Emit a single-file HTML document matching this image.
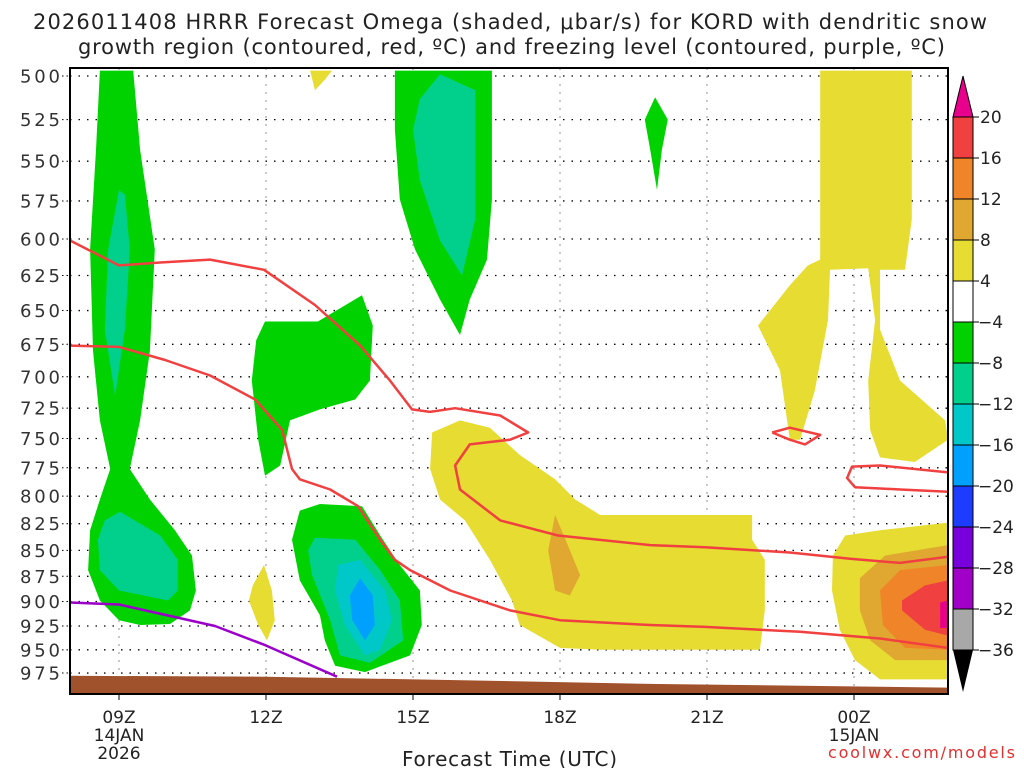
<!DOCTYPE html>
<html><head><meta charset="utf-8">
<style>
html,body{margin:0;padding:0;background:#fff;}
body{width:1024px;height:768px;overflow:hidden;font-family:"DejaVu Sans","Liberation Sans",sans-serif;}
svg text{font-family:"DejaVu Sans","Liberation Sans",sans-serif;}
</style></head>
<body>
<svg id="chart" width="1024" height="768" xmlns="http://www.w3.org/2000/svg">
<text x="33" y="29" font-size="21" fill="#222" textLength="954" lengthAdjust="spacing">2026011408 HRRR Forecast Omega (shaded, μbar/s) for KORD with dendritic snow</text>
<text x="78" y="54" font-size="21" fill="#222" textLength="867" lengthAdjust="spacing">growth region (contoured, red, ºC) and freezing level (contoured, purple, ºC)</text>
<defs><clipPath id="plotclip"><rect x="70" y="68" width="878" height="626"/></clipPath></defs>
<g id="grid"></g>
<g id="fills" clip-path="url(#plotclip)"></g>
<g id="lines" clip-path="url(#plotclip)"></g>
<rect x="70" y="68" width="878" height="626" fill="none" stroke="#000" stroke-width="2"/>
<g id="axes"></g>
<g id="cbar"></g>
<text x="402" y="766" font-size="20" fill="#222" textLength="215" lengthAdjust="spacing">Forecast Time (UTC)</text>
<text x="828" y="758" font-size="16" fill="#e03030" textLength="187" lengthAdjust="spacing">coolwx.com/models</text>
</svg>
<script>
const NS="http://www.w3.org/2000/svg";
// ---- data ----
const pressureTicks=[500,525,550,575,600,625,650,675,700,725,750,775,800,825,850,875,900,925,950,975];
const timeTickHours=[9,12,15,18,21,24];
const timeTickLabels=["09Z","12Z","15Z","18Z","21Z","00Z"];
const timeTickSub=["14JAN","","","","","15JAN"];
const timeTickSub2=["2026","","","","",""];
const cbarLevels=[20,16,12,8,4,-4,-8,-12,-16,-20,-24,-28,-32,-36];
const cbarColors=["#f04040","#f08428","#e0a830","#e6dc32","#ffffff","#00d200","#00d08c","#00c8c8","#00a0ff","#1e3cff","#7800dc","#a000c8","#a8a8a8"];
const greenColumn=[[8.61,497],[8.53,543],[8.41,607],[8.47,680],[8.61,735],[8.82,776],[8.61,803],[8.41,831],[8.37,869],[8.61,899],[9.0,919],[9.43,924],[10.04,923],[10.45,909],[10.57,889],[10.49,855],[10.14,831],[9.63,803],[9.22,776],[9.43,735],[9.63,680],[9.73,607],[9.43,543],[9.29,497]];
const tealColumnUpper=[[9.0,568],[8.78,607],[8.71,664],[8.92,715],[9.12,664],[9.22,607],[9.12,571]];
const tealColumnLower=[[8.71,822],[8.57,840],[8.61,869],[9.0,889],[10.0,899],[10.2,889],[10.2,859],[9.84,836],[9.02,814]];
const greenMid=[[11.98,658],[13.06,658],[13.96,639],[14.18,661],[14.12,703],[13.82,718],[13.1,726],[12.49,735],[12.29,773],[11.98,782],[11.84,751],[11.71,703],[11.8,672]];
const greenUpper=[[14.63,497],[16.61,497],[16.61,574],[16.51,614],[16.16,642],[15.96,668],[15.55,642],[15.04,607],[14.73,574],[14.63,531]];
const tealUpper=[[15.14,513],[15.55,499],[16.27,508],[16.27,587],[16.0,625],[15.55,601],[15.14,562],[15.0,531]];
const greenSmall=[[19.94,512],[20.2,525],[20.08,543],[19.98,568],[19.84,543],[19.73,525]];
const greenLower=[[12.69,813],[13.1,807],[13.96,809],[14.33,836],[14.73,864],[15.14,889],[15.18,924],[14.94,956],[14.02,974],[13.41,967],[13.2,940],[13.1,914],[12.69,879],[12.53,840]];
const tealLower=[[13.0,838],[13.82,840],[14.33,869],[14.73,899],[14.8,940],[14.12,964],[13.51,956],[13.31,919],[12.94,874],[12.86,850]];
const cyanLower=[[13.47,864],[13.92,859],[14.43,889],[14.57,919],[14.33,950],[14.02,956],[13.61,924],[13.41,889]];
const blueLower=[[13.92,877],[14.18,894],[14.22,924],[14.02,940],[13.76,919],[13.71,894]];
const yellowSmall=[[11.96,864],[12.12,889],[12.18,919],[12.02,940],[11.84,924],[11.65,899],[11.73,884]];
const yellowTop=[[12.9,497],[13.35,497],[13.2,502],[13.0,508]];
const yellowBig=[[15.39,745],[15.96,735],[16.57,741],[17.18,764],[17.9,785],[18.31,803],[18.82,817],[21.92,817],[21.92,840],[22.18,859],[22.18,909],[22.08,950],[18.82,950],[18.0,948],[17.18,924],[17.02,899],[16.57,859],[16.06,822],[15.55,803],[15.35,776]];
const goldPatch=[[17.9,817],[18.16,845],[18.41,874],[18.2,894],[17.9,889],[17.76,850]];
const yellowRightTop=[[23.31,497],[25.18,497],[25.18,587],[25.04,621],[24.53,621],[24.53,664],[24.94,703],[25.86,735],[25.92,751],[25.24,770],[24.53,766],[24.33,743],[24.29,703],[24.43,657],[24.29,620],[23.51,621],[23.47,657],[23.2,711],[22.9,751],[22.69,751],[22.49,695],[22.04,661],[22.69,632],[23.06,618],[23.31,614]];
const yellowRightLow=[[23.82,836],[24.53,831],[25.92,824],[25.92,982],[24.53,982],[24.02,961],[23.71,929],[23.55,889],[23.57,855]];
const goldRight=[[24.12,877],[24.63,855],[25.92,845],[25.92,961],[24.84,961],[24.33,940],[24.12,909]];
const orangeRight=[[24.53,889],[24.94,869],[25.92,864],[25.92,950],[25.04,948],[24.59,924]];
const redRight=[[24.98,899],[25.45,884],[25.92,879],[25.92,935],[25.45,929],[24.98,909]];
const magentaRight=[[25.76,901],[25.92,899],[25.92,927],[25.76,927]];
const dgzUpper=[[8,601],[9.0,618],[9.84,616],[10.86,614],[11.96,621],[13.0,646],[13.92,676],[14.53,703],[14.98,726],[15.35,728],[15.86,725],[16.78,731],[17.35,745],[16.98,751],[16.16,755],[15.86,773],[15.96,794],[16.78,822],[17.96,836],[19.84,845],[20.96,847],[22.69,852],[23.92,858],[24.94,862],[25.92,856]];
const dgzLower=[[8,676],[9.0,677],[9.94,687],[10.86,699],[11.78,718],[12.33,743],[12.53,776],[12.69,785],[13.31,794],[13.88,809],[14.33,840],[14.63,859],[14.94,869],[15.76,889],[16.98,909],[18.0,919],[19.84,924],[20.96,926],[22.9,931],[24.53,938],[25.92,948]];
const dgzLoopSmall=[[22.33,745],[22.69,741],[23.31,747],[23.0,755],[22.69,751],[22.33,745]];
const dgzLoopRight=[[25.92,779],[24.53,773],[23.96,774],[23.86,784],[24.02,792],[24.94,794],[25.92,796]];
const freezingLevel=[[8,901],[9.0,903],[10.96,925],[11.98,945],[13.45,979]];
const groundTop=[[8,978],[12,979],[16,983],[20,987],[25.92,991]];
// ---- scales ----
const X0=70, HOUR_PX=49, T0=8;
function xS(h){return X0+(h-T0)*HOUR_PX;}
function yS(p){return 76+894*Math.log(p/500);}
function pts(a){return a.map(d=>xS(d[0]).toFixed(1)+","+yS(d[1]).toFixed(1)).join(" ");}
function mk(tag,parent,attrs){const e=document.createElementNS(NS,tag);for(const k in attrs)e.setAttribute(k,attrs[k]);parent.appendChild(e);return e;}
const grid=document.getElementById("grid"),fills=document.getElementById("fills"),lines=document.getElementById("lines"),axes=document.getElementById("axes"),cbar=document.getElementById("cbar");
// grid
pressureTicks.forEach(p=>{const l=mk("line",grid,{x1:70,x2:948,y1:yS(p),y2:yS(p),stroke:"#000","stroke-width":1.3,"stroke-dasharray":"1.5,7"});


const t=mk("text",axes,{x:20,y:yS(p)+6.5,"font-size":18,fill:"#333",textLength:40,lengthAdjust:"spacing"});t.textContent=p;


const tk=mk("line",axes,{x1:62,x2:70,y1:yS(p),y2:yS(p),stroke:"#000","stroke-dasharray":"1.5,3"});

});
timeTickHours.forEach((h,i)=>{const l=mk("line",grid,{x1:xS(h),x2:xS(h),y1:68,y2:694,stroke:"#aaa","stroke-width":1.3,"stroke-dasharray":"2,6"});


const tk=mk("line",axes,{x1:xS(h),x2:xS(h),y1:694,y2:700,stroke:"#000"});


[timeTickLabels[i],timeTickSub[i],timeTickSub2[i]].forEach((s,j)=>{if(!s)return;const t=mk("text",axes,{x:xS(h),y:723+j*18,"text-anchor":"middle","font-size":17,fill:"#222","font-family":"Liberation Sans, sans-serif"});t.textContent=s;

});});
// fills
const layers=[["green-column",greenColumn,"#00d200"],["teal-column-upper",tealColumnUpper,"#00d08c"],["teal-column-lower",tealColumnLower,"#00d08c"],
["green-mid",greenMid,"#00d200"],["green-upper",greenUpper,"#00d200"],["teal-upper",tealUpper,"#00d08c"],["green-small",greenSmall,"#00d200"],
["green-lower",greenLower,"#00d200"],["teal-lower",tealLower,"#00d08c"],["cyan-lower",cyanLower,"#00c8c8"],["blue-lower",blueLower,"#00a0ff"],
["yellow-small",yellowSmall,"#e6dc32"],["yellow-top",yellowTop,"#e6dc32"],["yellow-big",yellowBig,"#e6dc32"],["gold-patch",goldPatch,"#e0a830"],
["yellow-right-top",yellowRightTop,"#e6dc32"],["yellow-right-low",yellowRightLow,"#e6dc32"],["gold-right",goldRight,"#e0a830"],
["orange-right",orangeRight,"#f08428"],["red-right",redRight,"#f04040"],["magenta-right",magentaRight,"#e8008c"]];
layers.forEach(L=>{const e=mk("polygon",fills,{points:pts(L[1]),fill:L[2]});

});
// ground
const g=mk("polygon",fills,{points:pts(groundTop)+" "+xS(25.92)+",694 70,694",fill:"#a0522d"});


// lines
[["dgz-upper",dgzUpper,"#f04040"],["dgz-lower",dgzLower,"#f04040"],["dgz-loop-small",dgzLoopSmall,"#f04040"],["dgz-loop-right",dgzLoopRight,"#f04040"],["freezing-level",freezingLevel,"#9a00c8"]].forEach(L=>{
const e=mk("polyline",lines,{points:pts(L[1]),fill:"none",stroke:L[2],"stroke-width":2.5,"stroke-linejoin":"round"});

});
// colorbar
const CX=953,CW=20,C0=117,CS=41;
const tt=mk("polygon",cbar,{points:`${CX},${C0} ${CX+CW},${C0} ${CX+CW/2},76`,fill:"#e8008c",stroke:"#000","stroke-width":1});


cbarColors.forEach((c,i)=>{const r=mk("rect",cbar,{x:CX,y:C0+i*CS,width:CW,height:CS,fill:c,stroke:"#000","stroke-width":1});

});
const bt=mk("polygon",cbar,{points:`${CX},${C0+cbarColors.length*CS} ${CX+CW},${C0+cbarColors.length*CS} ${CX+CW/2},692`,fill:"#000"});


cbarLevels.forEach((v,i)=>{const y=C0+i*CS;mk("line",cbar,{x1:CX+CW,x2:CX+CW+6,y1:y,y2:y,stroke:"#000"});
const t=mk("text",cbar,{x:CX+CW+(v<0?5:7),y:y+6,"font-size":17,fill:"#222","font-family":"Liberation Sans, sans-serif"});t.textContent=(v<0?"\u2212"+(-v):v);

});
</script>
</body></html>
